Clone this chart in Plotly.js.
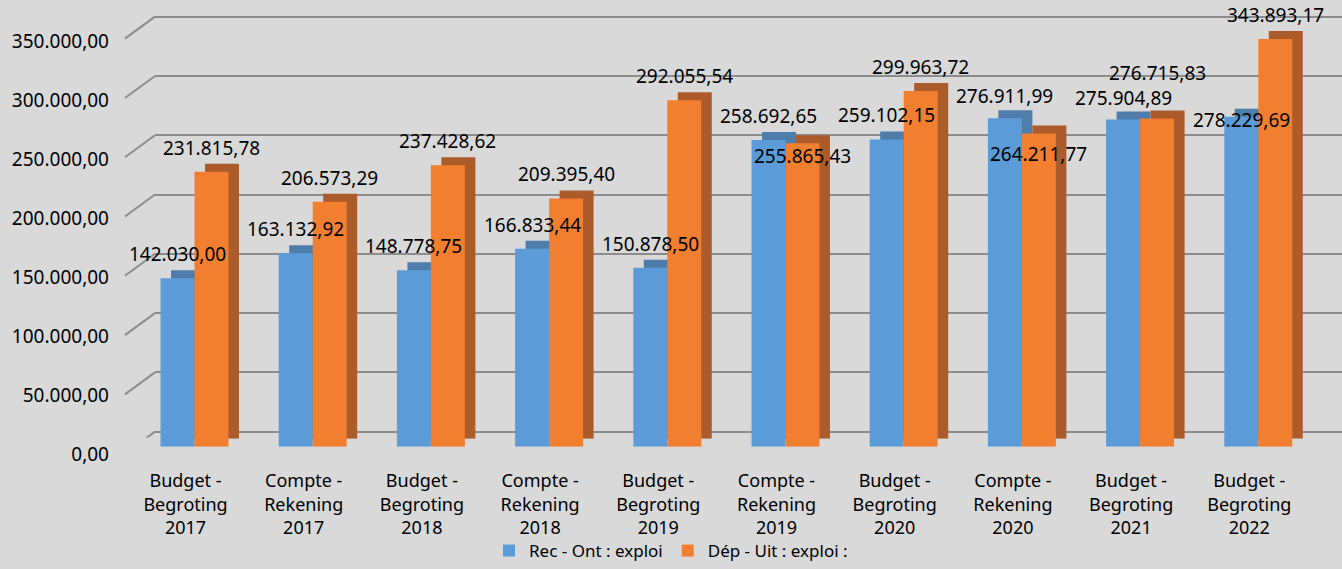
<!DOCTYPE html>
<html><head><meta charset="utf-8">
<script src="https://cdn.plot.ly/plotly-3.0.1.min.js"></script>
<style>html,body{margin:0;padding:0;background:#d9d9d9}</style>
</head><body><div id="chart" style="width:1342px;height:569px"></div>
<script>
const categories = [
  "Budget -<br>Begroting<br>2017", "Compte -<br>Rekening<br>2017",
  "Budget -<br>Begroting<br>2018", "Compte -<br>Rekening<br>2018",
  "Budget -<br>Begroting<br>2019", "Compte -<br>Rekening<br>2019",
  "Budget -<br>Begroting<br>2020", "Compte -<br>Rekening<br>2020",
  "Budget -<br>Begroting<br>2021", "Budget -<br>Begroting<br>2022"
];
const seriesNames = ["Rec - Ont : exploi", "Dép - Uit : exploi :"];
const recettes = [142030.00, 163132.92, 148778.75, 166833.44, 150878.50, 258692.65, 259102.15, 276911.99, 275904.89, 278229.69];
const depenses = [231815.78, 206573.29, 237428.62, 209395.40, 292055.54, 255865.43, 299963.72, 264211.77, 276715.83, 343893.17];
const yTicks = [0, 50000, 100000, 150000, 200000, 250000, 300000, 350000];

// label lift in pixels (style only)
const recLabelLift = [24, 24, 24, 24, 24, 24, 24, 22, 22, -3];
const depLabelLift = [24, 24, 24, 24, 24, -13, 24, -21, 46, 24];

function fmt(v) {
  const parts = v.toFixed(2).split('.');
  return parts[0].replace(/\B(?=(\d{3})+(?!\d))/g, '.') + ',' + parts[1];
}

const BLUE = '#5b9bd8', ORANGE = '#f27f30';
const BLUE_D = '#4f7dab', ORANGE_D = '#ac5b2b';

const traces = [
  {type: 'scatter', x: [0.5], y: [0], xaxis: 'x', yaxis: 'y', mode: 'markers',
   marker: {opacity: 0}, hoverinfo: 'skip', showlegend: false},
  {type: 'bar', x: categories, y: recettes, xaxis: 'x2', yaxis: 'y2', marker: {color: BLUE_D},
   hoverinfo: 'skip', showlegend: false},
  {type: 'bar', x: categories, y: depenses, xaxis: 'x2', yaxis: 'y2', marker: {color: ORANGE_D},
   hoverinfo: 'skip', showlegend: false},
  {type: 'bar', name: seriesNames[0], x: categories, y: recettes, xaxis: 'x3', yaxis: 'y3',
   marker: {color: BLUE}},
  {type: 'bar', name: seriesNames[1], x: categories, y: depenses, xaxis: 'x3', yaxis: 'y3',
   marker: {color: ORANGE}},
  {type: 'scatter', x: categories, y: categories.map(() => 0), xaxis: 'x4', yaxis: 'y4', mode: 'markers',
   marker: {opacity: 0}, hoverinfo: 'skip', showlegend: false}
];

const annotations = [];
recettes.forEach((v, i) => annotations.push({
  x: categories[i], y: v, xref: 'x3', yref: 'y3', text: fmt(v), showarrow: false,
  xshift: -17, yshift: recLabelLift[i], font: {size: 19, color: '#000'}
}));
depenses.forEach((v, i) => annotations.push({
  x: categories[i], y: v, xref: 'x3', yref: 'y3', text: fmt(v), showarrow: false,
  xshift: 17, yshift: depLabelLift[i], font: {size: 19, color: '#000'}
}));

const shapes = yTicks.map(v => ({
  type: 'line', xref: 'paper', x0: 0.0931, x1: 0.1155,
  yref: 'y', ysizemode: 'pixel', yanchor: v, y0: -22, y1: 0,
  line: {color: '#8c8c8c', width: 2}
}));

const layout = {
  width: 1342, height: 569,
  margin: {l: 0, r: 0, t: 0, b: 0, autoexpand: false},
  paper_bgcolor: '#d9d9d9', plot_bgcolor: 'rgba(0,0,0,0)',
  font: {family: 'Noto Sans', size: 18, color: '#000'},
  barmode: 'group', bargap: 0.425, bargroupgap: 0,
  hovermode: false,
  showlegend: true,
  legend: {orientation: 'h', x: 0.5, xanchor: 'center', y: 0, yanchor: 'bottom',
           font: {size: 17}, bgcolor: 'rgba(0,0,0,0)'},
  xaxis: {domain: [0.1155, 1], range: [0, 1], visible: false, anchor: 'y'},
  yaxis: {domain: [0.23093, 0.99156], range: [-5000, 360000], anchor: 'x',
          tickvals: yTicks, showticklabels: false, ticks: '', showgrid: true,
          gridcolor: '#8c8c8c', gridwidth: 2, zeroline: false, showline: false},
  xaxis2: {domain: [0.10872, 0.98949], range: [-0.5, 9.5], type: 'category', visible: false, anchor: 'y2'},
  yaxis2: {domain: [0.22900, 0.97926], range: [0, 360000], visible: false, anchor: 'x2'},
  xaxis3: {domain: [0.10089, 0.98167], range: [-0.5, 9.5], type: 'category', visible: false, anchor: 'y3'},
  yaxis3: {domain: [0.21494, 0.96520], range: [0, 360000], visible: false, anchor: 'x3'},
  xaxis4: {domain: [0.09419, 0.97496], range: [-0.5, 9.5], type: 'category', anchor: 'free', position: 0.21494,
           showgrid: false, zeroline: false, showline: false, ticks: 'outside', ticklen: 18,
           tickcolor: 'rgba(0,0,0,0)', tickfont: {size: 18, color: '#000'}},
  yaxis4: {domain: [0.20211, 0.94745], range: [0, 360000], anchor: 'free', position: 0.0812,
           tickvals: yTicks, ticktext: yTicks.map(fmt), showgrid: false, zeroline: false, showline: false,
           ticks: '', tickfont: {size: 19, color: '#000'}},
  annotations: annotations,
  shapes: shapes
};

Plotly.newPlot('chart', traces, layout, {displayModeBar: false, staticPlot: true});
</script>
</body></html>
